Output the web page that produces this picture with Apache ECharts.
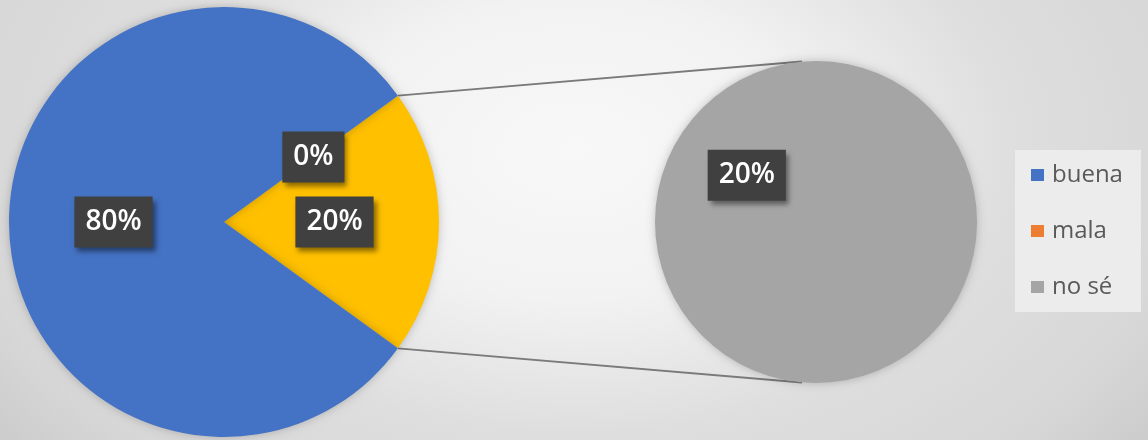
<!DOCTYPE html>
<html>
<head>
<meta charset="utf-8">
<title>Pie of pie</title>
<script src="https://cdn.jsdelivr.net/npm/echarts@6/dist/echarts.min.js"></script>
<style>
  html, body { margin: 0; padding: 0; }
  #chart { width: 1148px; height: 440px; }
</style>
</head>
<body>
<div id="chart"></div>
<script>
// Answers (percent) and their colours
var categories = ['buena', 'mala', 'no sé'];
var values = [80, 0, 20];
var colors = ['#4472C4', '#ED7D31', '#A5A5A5'];
// The "other" wedge of the main pie groups the answers shown in the secondary pie
var otherName = 'Otro';
var otherColor = '#FFC000';
var otherValue = values[1] + values[2];

var W = 1148, H = 440;
var mainCenter = [224, 222], mainRadius = 215;
var subCenter = [816, 222], subRadius = 161;
var otherHalfAngle = otherValue / 100 * 180; // degrees either side of 3 o'clock

var chart = echarts.init(document.getElementById('chart'), null, { renderer: 'canvas' });

var labelStyle = {
  show: true,
  position: 'inside',
  formatter: function (p) { return p.value + '%'; },
  color: '#ffffff',
  fontFamily: 'Open Sans',
  fontWeight: 600,
  fontSize: 28,
  lineHeight: 31,
  backgroundColor: '#404040',
  padding: [10, 11],
  shadowColor: 'rgba(0,0,0,0.45)',
  shadowBlur: 5,
  shadowOffsetX: 3,
  shadowOffsetY: 4
};

var pieShadow = { shadowColor: 'rgba(0,0,0,0.22)', shadowBlur: 10 };

function rad(a) { return a * Math.PI / 180; }
var p1 = [mainCenter[0] + mainRadius * Math.cos(rad(otherHalfAngle)), mainCenter[1] - mainRadius * Math.sin(rad(otherHalfAngle))];
var p2 = [mainCenter[0] + mainRadius * Math.cos(rad(otherHalfAngle)), mainCenter[1] + mainRadius * Math.sin(rad(otherHalfAngle))];
var q1 = [subCenter[0] + subRadius * Math.cos(rad(95)), subCenter[1] - subRadius * Math.sin(rad(95))];
var q2 = [subCenter[0] + subRadius * Math.cos(rad(95)), subCenter[1] + subRadius * Math.sin(rad(95))];

// elliptical radial backdrop: a scaled rect carrying a circular gradient
var bgScale = 1.55;
var option = {
  animation: false,
  backgroundColor: '#d6d6d6',
  graphic: [
    {
      type: 'rect',
      silent: true,
      z: -100,
      scaleX: bgScale,
      shape: { x: 0, y: 0, width: W / bgScale, height: H },
      style: {
        fill: {
          type: 'radial', x: 0.5, y: 0.34, r: 1.1,
          colorStops: [
            { offset: 0, color: '#f8f8f8' },
            { offset: 0.31, color: '#f2f2f2' },
            { offset: 0.59, color: '#dedede' },
            { offset: 0.83, color: '#d7d7d7' },
            { offset: 0.97, color: '#cccccc' },
            { offset: 1, color: '#cacaca' }
          ]
        }
      }
    },
    {
      type: 'line', silent: true, z: 1,
      shape: { x1: p1[0], y1: p1[1], x2: q1[0], y2: q1[1] },
      style: { stroke: '#7a7a7a', lineWidth: 2 }
    },
    {
      type: 'line', silent: true, z: 1,
      shape: { x1: p2[0], y1: p2[1], x2: q2[0], y2: q2[1] },
      style: { stroke: '#7a7a7a', lineWidth: 2 }
    }
  ],
  legend: {
    orient: 'vertical',
    left: 1015,
    top: 150,
    backgroundColor: '#ececec',
    padding: [13, 18, 13, 16],
    itemGap: 32,
    itemWidth: 13,
    itemHeight: 12,
    icon: 'rect',
    data: categories,
    textStyle: { fontFamily: 'Open Sans', fontSize: 24, color: '#595959', padding: [0, 0, 0, 3] }
  },
  series: [
    {
      type: 'pie',
      name: 'main',
      center: mainCenter,
      radius: mainRadius,
      startAngle: otherHalfAngle,
      clockwise: true,
      avoidLabelOverlap: false,
      silent: true,
      label: labelStyle,
      labelLine: { show: false },
      itemStyle: pieShadow,
      data: [
        { name: categories[1], value: values[1], itemStyle: { color: colors[1] } },
        { name: otherName, value: otherValue, itemStyle: { color: otherColor } },
        { name: categories[0], value: values[0], itemStyle: { color: colors[0] } }
      ]
    },
    {
      type: 'pie',
      name: 'sub',
      center: subCenter,
      radius: subRadius,
      startAngle: -34,
      clockwise: true,
      silent: true,
      label: labelStyle,
      labelLine: { show: false },
      itemStyle: pieShadow,
      data: [
        { name: categories[2], value: values[2], itemStyle: { color: colors[2] } }
      ]
    }
  ]
};

chart.setOption(option);
</script>
</body>
</html>
